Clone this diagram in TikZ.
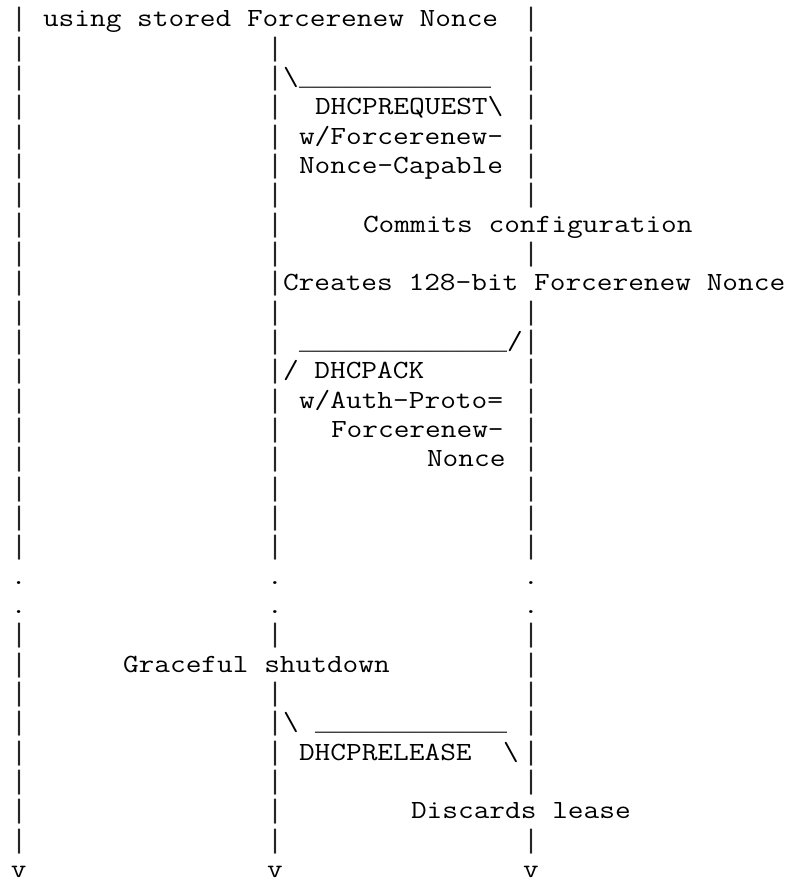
\documentclass[tikz,border=0pt]{standalone}
\usepackage{fontspec}
\usepackage{graphicx}
\newfontfamily\rulemono{Liberation Mono}
\newcommand\asciifont{\ttfamily\fontsize{26.2pt}{29.33pt}\selectfont\frenchspacing}
\newcommand\rulefont{\rulemono\fontsize{26.67pt}{29.33pt}\selectfont}
\tikzset{
  txt/.style={anchor=base west,inner sep=0pt,outer sep=0pt,font=\asciifont,text=black},
  rulechar/.style={anchor=base west,inner sep=0pt,outer sep=0pt,font=\rulefont,text=black!85}
}
% #1 name, #2 column, #3 row, #4 text
\newcommand\cellat[4]{\node[txt] (#1) at ({11+16*#2},{855-29.33*#3}) {\scalebox{1.1632}[1]{#4}};}
\newcommand\rulat[4]{\node[rulechar] (#1) at ({11+16*#2},{855-29.33*#3}) {#4};}
\begin{document}
\begin{tikzpicture}[x=1pt,y=1pt]
\useasboundingbox (0,0) rectangle (803,882);
% lifelines
\foreach \r in {0,1,2,3,4,5,6,7,8,9,10,11,12,13,14,15,16,17,18,21,22,23,24,25,26,27,28}
  {\rulat{barA\r}{0}{\r}{|}}
\foreach \r in {1,2,3,4,5,6,7,8,9,10,11,12,13,14,15,16,17,18,21,23,24,25,26,27,28}
  {\rulat{barB\r}{16}{\r}{|}}
\foreach \r in {0,1,2,3,4,5,6,8,10,11,12,13,14,15,16,17,18,21,22,23,24,25,26,28}
  {\rulat{barC\r}{32}{\r}{|}}
\foreach \r in {19,20}
  {\cellat{dotA\r}{0}{\r}{.}\cellat{dotB\r}{16}{\r}{.}\cellat{dotC\r}{32}{\r}{.}}
\cellat{endA}{0}{29}{v}
\cellat{endB}{16}{29}{v}
\cellat{endC}{32}{29}{v}
% message rules
\cellat{s2}{17}{2}{\textbackslash}
\rulat{u2}{18}{2}{\_\_\_\_\_\_\_\_\_\_\_\_}
\rulat{u11}{18}{11}{\_\_\_\_\_\_\_\_\_\_\_\_\_}
\cellat{s11}{31}{11}{/}
\cellat{s24}{17}{24}{\textbackslash}
\rulat{u24}{19}{24}{\_\_\_\_\_\_\_\_\_\_\_\_}
% texts
\cellat{t0}{2}{0}{using stored Forcerenew Nonce}
\cellat{t3}{19}{3}{DHCPREQUEST\textbackslash}
\cellat{t4}{18}{4}{w/Forcerenew-}
\cellat{t5}{18}{5}{Nonce-Capable}
\cellat{t7}{22}{7}{Commits configuration}
\cellat{t9}{17}{9}{Creates 128-bit Forcerenew Nonce}
\cellat{t12}{17}{12}{/ DHCPACK}
\cellat{t13}{18}{13}{w/Auth-Proto=}
\cellat{t14}{20}{14}{Forcerenew-}
\cellat{t15}{26}{15}{Nonce}
\cellat{t22}{7}{22}{Graceful shutdown}
\cellat{t25}{18}{25}{DHCPRELEASE\ \ \textbackslash}
\cellat{t27}{25}{27}{Discards lease}
\end{tikzpicture}
\end{document}
